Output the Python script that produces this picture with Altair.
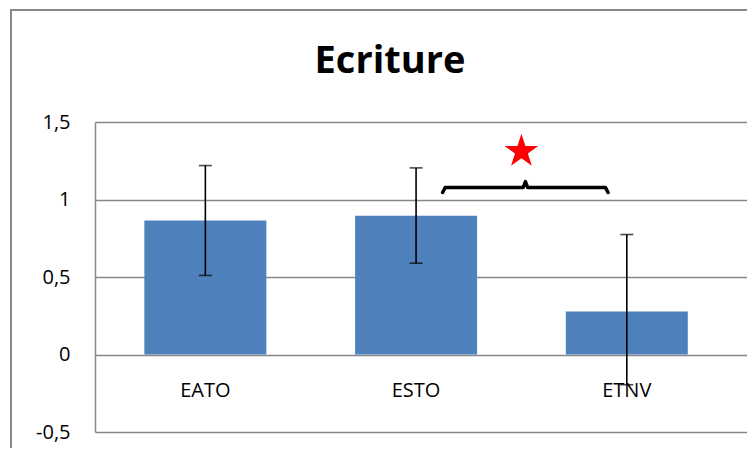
import altair as alt
import pandas as pd

title_text = ["Ecriture"]
categories = ["EATO", "ESTO", "ETNV"]
means = [0.865, 0.895, 0.277]
err_low = [0.51, 0.589, -0.195]
err_high = [1.219, 1.204, 0.774]

y_ticks = [-0.5, 0, 0.5, 1, 1.5]

# significance annotation between ESTO and ETNV
brace_x = [1.126, 1.138, 1.508, 1.519, 1.530, 1.899, 1.911]
brace_y = [1.045, 1.077, 1.077, 1.115, 1.077, 1.077, 1.045]
star_x = [1.5]
star_y = [1.31]

W, H = 652, 310
FONT = "Open Sans"
GREY = "#878787"

df = pd.DataFrame({
    "idx": list(range(len(categories))),
    "cat": categories,
    "mean": means,
    "lo": err_low,
    "hi": err_high,
    "zero": [0] * len(categories),
})
brace = pd.DataFrame({"x": brace_x, "y": brace_y, "o": list(range(len(brace_x)))})
star = pd.DataFrame({"x": star_x, "y": star_y})

xs = alt.Scale(domain=[-0.5, -0.5 + W / 214.0], nice=False, zero=False)
ys = alt.Scale(domain=[-0.5, 1.5], nice=False, zero=False)

base = alt.Chart(df)

bars = base.mark_bar(color="#4F81BD", size=122).encode(
    x=alt.X("idx:Q", scale=xs, axis=None),
    y=alt.Y("mean:Q", scale=ys,
            axis=alt.Axis(values=y_ticks, title=None, grid=True, gridColor=GREY,
                          gridWidth=1.5, domainColor=GREY, domainWidth=1.5,
                          ticks=False, labelPadding=25, labelFont=FONT,
                          labelFontSize=20, labelColor="#000000",
                          labelExpr="replace(datum.value + '', '.', ',')")),
    y2="zero:Q",
)

rules = base.mark_rule(color="black", strokeWidth=1.6).encode(
    x=alt.X("idx:Q", scale=xs), y=alt.Y("lo:Q", scale=ys), y2="hi:Q")
cap_lo = base.mark_tick(color="black", orient="horizontal", size=13, thickness=1.6).encode(
    x=alt.X("idx:Q", scale=xs), y=alt.Y("lo:Q", scale=ys))
cap_hi = base.mark_tick(color="black", orient="horizontal", size=13, thickness=1.6).encode(
    x=alt.X("idx:Q", scale=xs), y=alt.Y("hi:Q", scale=ys))

labels = base.mark_text(font=FONT, fontSize=20, color="black", baseline="middle", dy=36).encode(
    x=alt.X("idx:Q", scale=xs), y=alt.Y("zero:Q", scale=ys), text="cat:N")

brace_line = alt.Chart(brace).mark_line(color="black", strokeWidth=3.5,
                                        strokeJoin="round", strokeCap="round").encode(
    x=alt.X("x:Q", scale=xs), y=alt.Y("y:Q", scale=ys), order="o:Q")

star_path = ("M0,-1L0.2245,-0.309L0.951,-0.309L0.363,0.118L0.588,0.809L0,0.382"
             "L-0.588,0.809L-0.363,0.118L-0.951,-0.309L-0.2245,-0.309Z")
star_mark = alt.Chart(star).mark_point(shape=star_path, filled=True, color="#FF0000",
                                       opacity=1, size=1250).encode(
    x=alt.X("x:Q", scale=xs), y=alt.Y("y:Q", scale=ys))

one = pd.DataFrame({"a": [0]})
frame_v = alt.Chart(one).mark_rule(color=GREY, strokeWidth=2).encode(
    x=alt.value(-84), y=alt.value(-113), y2=alt.value(H + 16))
frame_h = alt.Chart(one).mark_rule(color=GREY, strokeWidth=2).encode(
    x=alt.value(-85), x2=alt.value(W), y=alt.value(-112))

title = alt.Chart(pd.DataFrame({"t": title_text})).mark_text(
    font=FONT, fontSize=38, fontWeight="bold", color="black",
    align="center", baseline="alphabetic").encode(
    x=alt.value(W / 2 - 31), y=alt.value(-49), text="t:N")

chart = alt.layer(frame_v, frame_h, bars, rules, cap_lo, cap_hi, labels,
                  brace_line, star_mark, title).properties(
    width=W, height=H,
    padding={"left": 87, "top": 114, "right": 0, "bottom": 16},
    autosize=alt.AutoSizeParams(type="none"),
).configure_view(stroke=None)

chart.save("out.html", embed_options={"renderer": "svg", "actions": False})
